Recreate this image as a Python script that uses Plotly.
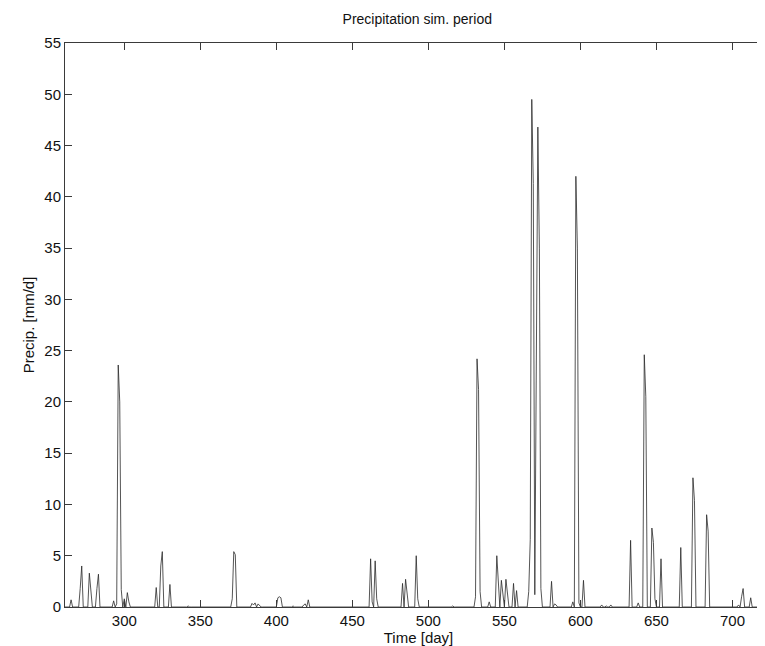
import numpy as np
import plotly.graph_objects as go

# Simulation period (days)
day_start = 261
day_end = 726

# Wet days and their precipitation [mm/d] (all other days are dry, 0 mm/d)
rain_days = [265, 271, 272, 277, 278, 282, 283, 293, 295, 296, 297, 298, 300, 302, 303,
             321, 324, 325, 330, 342, 371, 372, 373, 384, 385, 386, 388, 389,
             401, 402, 403, 411, 418, 419, 421, 462, 463, 465, 466, 483, 485, 486,
             492, 493, 516, 531, 532, 533, 534, 540, 545, 546, 548, 549, 551, 552,
             556, 558, 566, 567, 568, 569, 570, 571, 572, 573, 574, 581, 583, 584,
             595, 597, 598, 599, 602, 614, 617, 620, 633, 638, 642, 643, 647, 648,
             649, 653, 666, 674, 675, 683, 684, 704, 706, 707, 712]
rain_mm = [0.7, 1.8, 4.0, 3.3, 1.5, 1.8, 3.2, 0.6, 0.3, 23.6, 20.0, 1.7, 0.8, 1.4, 0.5,
           1.9, 4.0, 5.4, 2.2, 0.1, 0.8, 5.4, 5.1, 0.35, 0.2, 0.4, 0.3, 0.15,
           0.9, 1.0, 0.9, 0.1, 0.2, 0.3, 0.7, 4.7, 0.5, 4.5, 0.8, 2.3, 2.7, 1.3,
           5.0, 0.8, 0.1, 1.0, 24.2, 21.2, 1.5, 0.5, 5.0, 2.4, 2.6, 1.2, 2.7, 1.4,
           2.3, 1.6, 1.5, 6.6, 49.5, 41.3, 1.2, 30.0, 46.8, 35.0, 1.8, 2.5, 0.3, 0.2,
           0.5, 42.0, 35.0, 0.4, 2.6, 0.2, 0.1, 0.2, 6.5, 0.4, 24.6, 20.5, 7.7, 6.3,
           0.8, 4.7, 5.8, 12.6, 10.4, 9.0, 7.4, 0.2, 1.0, 1.8, 0.9]

x_ticks = [300, 350, 400, 450, 500, 550, 600, 650, 700]
y_ticks = [0, 5, 10, 15, 20, 25, 30, 35, 40, 45, 50, 55]

days = np.arange(day_start, day_end + 1)
precip = np.zeros(len(days))
for d, v in zip(rain_days, rain_mm):
    precip[d - day_start] = v

font = "Liberation Sans, Arial, Helvetica, sans-serif"
axcol = "#3a3a3a"

fig = go.Figure()
fig.add_trace(go.Scatter(x=days, y=precip, mode="lines",
                         line=dict(color="#2a2a2a", width=0.8), showlegend=False))

fig.update_layout(
    width=765, height=646,
    paper_bgcolor="white", plot_bgcolor="white",
    margin=dict(l=57, r=1, t=35, b=47, pad=0),
    font=dict(family=font, size=15, color="#111111"),
    title=dict(text="Precipitation sim. period", x=0.535, xanchor="center",
               y=1 - 11 / 646, yanchor="middle", yref="container",
               font=dict(family=font, size=14, color="#111111")),
)
fig.update_xaxes(range=[day_start, day_end], tickvals=x_ticks, ticks="inside", ticklen=7,
                 tickcolor=axcol, showline=True, linecolor=axcol, linewidth=1, mirror="ticks",
                 showgrid=False, zeroline=False, automargin=False,
                 title=dict(text="Time [day]", standoff=2, font=dict(size=15)))
fig.update_yaxes(range=[0, 55], tickvals=y_ticks, ticks="inside", ticklen=7,
                 tickcolor=axcol, showline=True, linecolor=axcol, linewidth=1, mirror="ticks",
                 showgrid=False, zeroline=False, automargin=False,
                 title=dict(text="Precip. [mm/d]", standoff=6, font=dict(size=15)))

fig.write_html("out.html")
